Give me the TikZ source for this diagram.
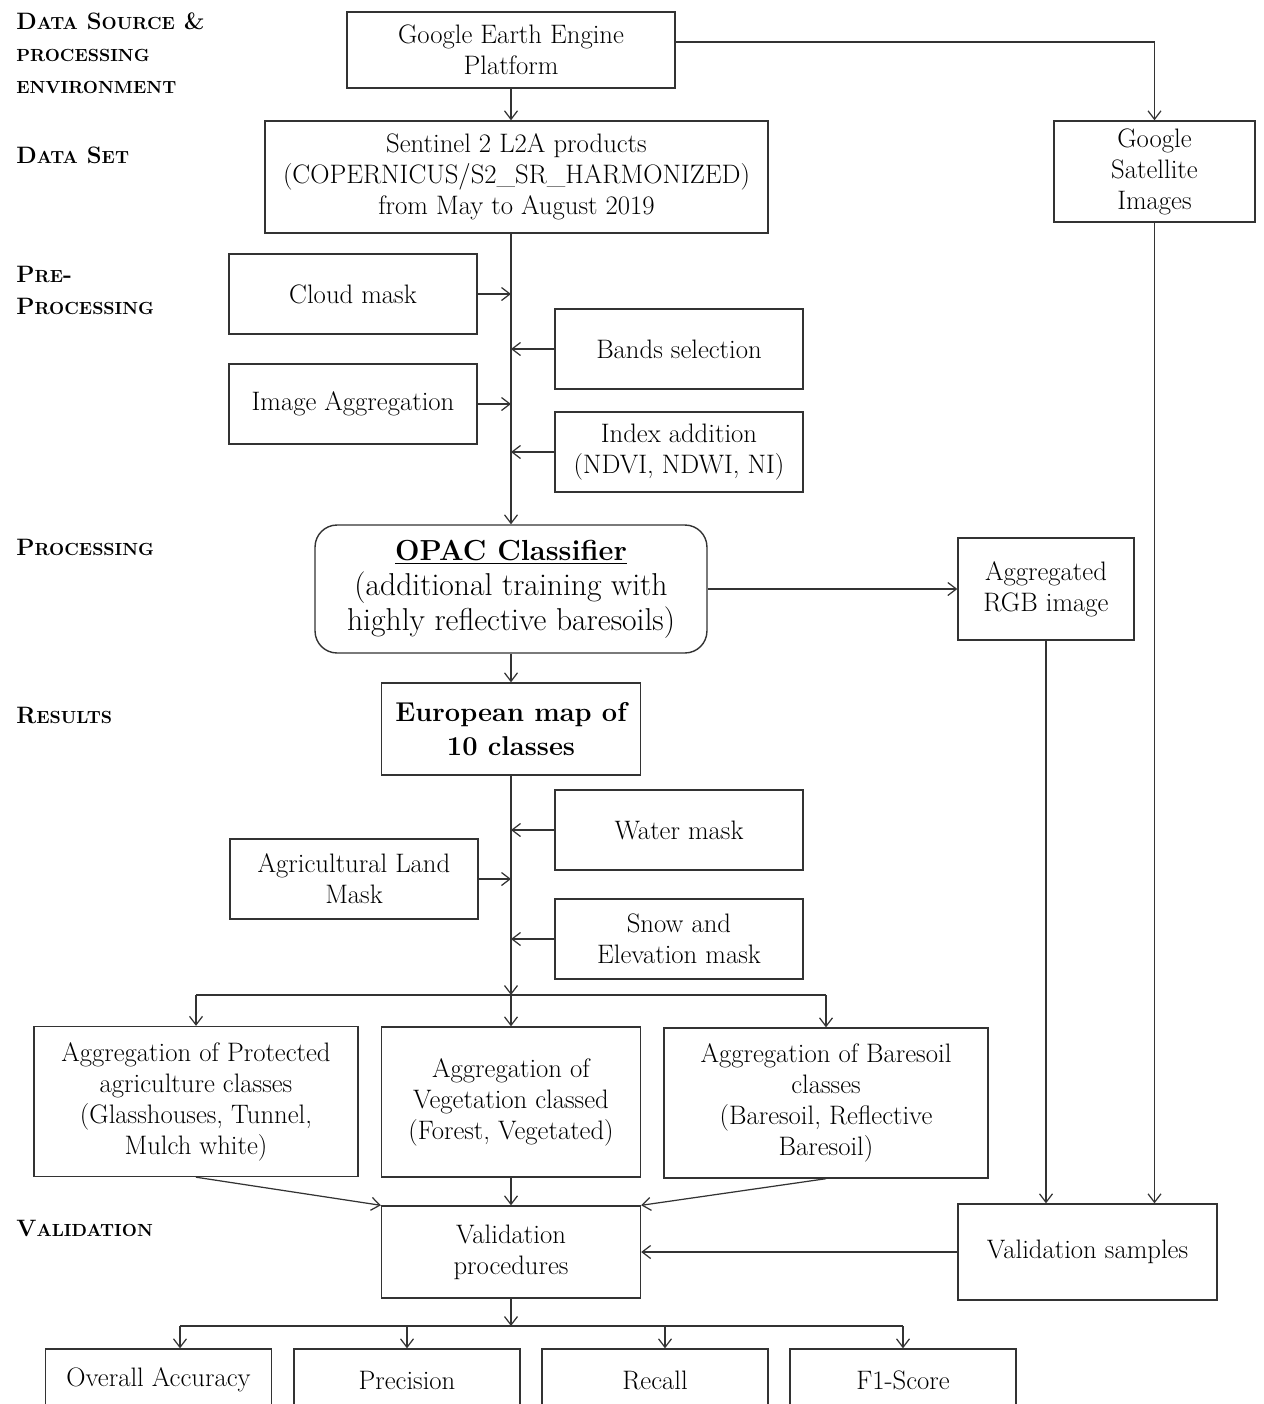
\documentclass[tikz,border=0pt]{standalone}
\usepackage{tikz}
\usetikzlibrary{positioning,arrows.meta}

\newcommand{\smcp}[1]{{\fontsize{10}{12}\selectfont #1}}

\begin{document}
\begin{tikzpicture}[
    x=0.02cm, y=-0.02cm,
    box/.style={
        draw=black!80,
        line width=0.8pt,
        align=center,
        inner sep=1pt,
        font=\fontsize{15.2}{17.6}\selectfont
    },
    sidebox/.style={
        box,
        minimum width=4.96cm,
        minimum height=1.6cm
    },
    aggbox/.style={
        box,
        minimum width=6.48cm,
        minimum height=3cm
    },
    metricbox/.style={
        box,
        minimum width=4.52cm,
        minimum height=1.24cm
    },
    stage/.style={
        anchor=north west,
        align=left,
        inner sep=0pt,
        font=\bfseries\fontsize{13.5}{18.2}\selectfont
    },
    arrow/.style={-{Straight Barb[length=1.7mm,width=2.6mm]}, line width=0.7pt, draw=black!80},
    link/.style={line width=0.7pt, draw=black!80}
]
\useasboundingbox (0,0) rectangle (1264,1404);
\clip (0,0) rectangle (1264,1404);

% Etapas
\node[stage] (srcLbl) at (16,12) {D\smcp{ATA} S\smcp{OURCE} \&\\\smcp{PROCESSING}\\\smcp{ENVIRONMENT}};
\node[stage] (setLbl) at (16,147) {D\smcp{ATA} S\smcp{ET}};
\node[stage] (preLbl) at (16,266) {P\smcp{RE}-\\P\smcp{ROCESSING}};
\node[stage] (procLbl) at (16,539) {P\smcp{ROCESSING}};
\node[stage] (resLbl) at (16,707) {R\smcp{ESULTS}};
\node[stage] (valLbl) at (16,1220) {V\smcp{ALIDATION}};

% Fuente de datos
\node[box, minimum width=6.56cm, minimum height=1.52cm] (gee) at (511,50) {Google Earth Engine\\Platform};
\node[box, minimum width=10.06cm, minimum height=2.24cm] (sentinel) at (516.5,177) {Sentinel 2 L2A products\\(COPERNICUS/S2\_SR\_HARMONIZED)\\from May to August 2019};
\node[box, minimum width=4.02cm, minimum height=2.02cm] (gsat) at (1154.5,171.5) {Google\\Satellite\\Images};

% Preprocesado
\node[sidebox] (cloud) at (353,294) {Cloud mask};
\node[sidebox] (bands) at (679,349) {Bands selection};
\node[sidebox] (imgagg) at (353,404) {Image Aggregation};
\node[sidebox] (index) at (679,452) {Index addition\\(NDVI, NDWI, NI)};

% Procesado
\node[box, rounded corners=0.44cm, minimum width=7.84cm, minimum height=2.56cm,
      font=\fontsize{18}{19.9}\selectfont] (opac) at (511,589)
      {{\fontsize{16.5}{19.9}\selectfont\textbf{\underline{OPAC Classifier}}}\\(additional training with\\highly reflective baresoils)};
\node[box, minimum width=3.52cm, minimum height=2.04cm] (rgb) at (1046,589) {Aggregated\\RGB image};

% Resultados
\node[box, minimum width=5.18cm, minimum height=1.84cm,
      font=\bfseries\fontsize{15.5}{19.3}\selectfont] (eumap) at (511,729) {European map of\\10 classes};
\node[sidebox] (water) at (679,830) {Water mask};
\node[sidebox] (agri) at (354,879) {Agricultural Land\\Mask};
\node[sidebox] (snow) at (679,939) {Snow and\\Elevation mask};

\node[aggbox] (prot) at (196,1101.5) {Aggregation of Protected\\agriculture classes\\(Glasshouses, Tunnel,\\Mulch white)};
\node[aggbox, minimum width=5.18cm] (veg) at (511,1102) {Aggregation of\\Vegetation classed\\(Forest, Vegetated)};
\node[aggbox] (bare) at (826,1103) {Aggregation of Baresoil\\classes\\(Baresoil, Reflective\\Baresoil)};

% Validacion
\node[box, minimum width=5.18cm, minimum height=1.84cm] (valproc) at (511,1252) {Validation\\procedures};
\node[box, minimum width=5.18cm, minimum height=1.92cm] (valsamp) at (1087.5,1252) {Validation samples};

\node[metricbox] (oa) at (158.5,1380) {Overall Accuracy};
\node[metricbox] (prec) at (407,1380) {Precision};
\node[metricbox] (recall) at (655,1380) {Recall};
\node[metricbox] (f1) at (903,1380) {F1-Score};

% Flechas
\draw[arrow] (gee.south) -- (gee.south |- sentinel.north);
\draw[arrow] ([yshift=0.16cm]gee.east) -| (gsat.north);

\draw[arrow] (sentinel.south -| opac.north) -- (opac.north);
\draw[arrow] (cloud.east) -- (cloud.east -| opac.north);
\draw[arrow] (bands.west) -- (bands.west -| opac.north);
\draw[arrow] (imgagg.east) -- (imgagg.east -| opac.north);
\draw[arrow] (index.west) -- (index.west -| opac.north);

\draw[arrow] (opac.east) -- (rgb.west);
\draw[arrow] (opac.south) -- (eumap.north);

\coordinate (split) at (511,995);
\draw[arrow] (eumap.south) -- (split);
\draw[arrow] (water.west) -- (water.west -| eumap.south);
\draw[arrow] (agri.east) -- (agri.east -| eumap.south);
\draw[arrow] (snow.west) -- (snow.west -| eumap.south);

\draw[link] (prot.north |- split) -- (bare.north |- split);
\draw[arrow] (prot.north |- split) -- (prot.north);
\draw[arrow] (split) -- (veg.north);
\draw[arrow] (bare.north |- split) -- (bare.north);

\draw[arrow] (prot.south) -- (valproc.north west);
\draw[arrow] (veg.south) -- (valproc.north);
\draw[arrow] (bare.south) -- (valproc.north east);

\draw[arrow] (rgb.south) -- (rgb.south |- valsamp.north);
\draw[arrow] (gsat.south) -- (gsat.south |- valsamp.north);
\draw[arrow] (valsamp.west) -- (valproc.east);

\coordinate (split2) at (511,1326);
\draw[arrow] (valproc.south) -- (split2);
\draw[link] ([xshift=0.43cm]oa.north |- split2) -- (f1.north |- split2);
\draw[arrow] ([xshift=0.43cm]oa.north |- split2) -- ([xshift=0.43cm]oa.north);
\draw[arrow] (prec.north |- split2) -- (prec.north);
\draw[arrow] ([xshift=0.2cm]recall.north |- split2) -- ([xshift=0.2cm]recall.north);
\draw[arrow] (f1.north |- split2) -- (f1.north);

\end{tikzpicture}
\end{document}
